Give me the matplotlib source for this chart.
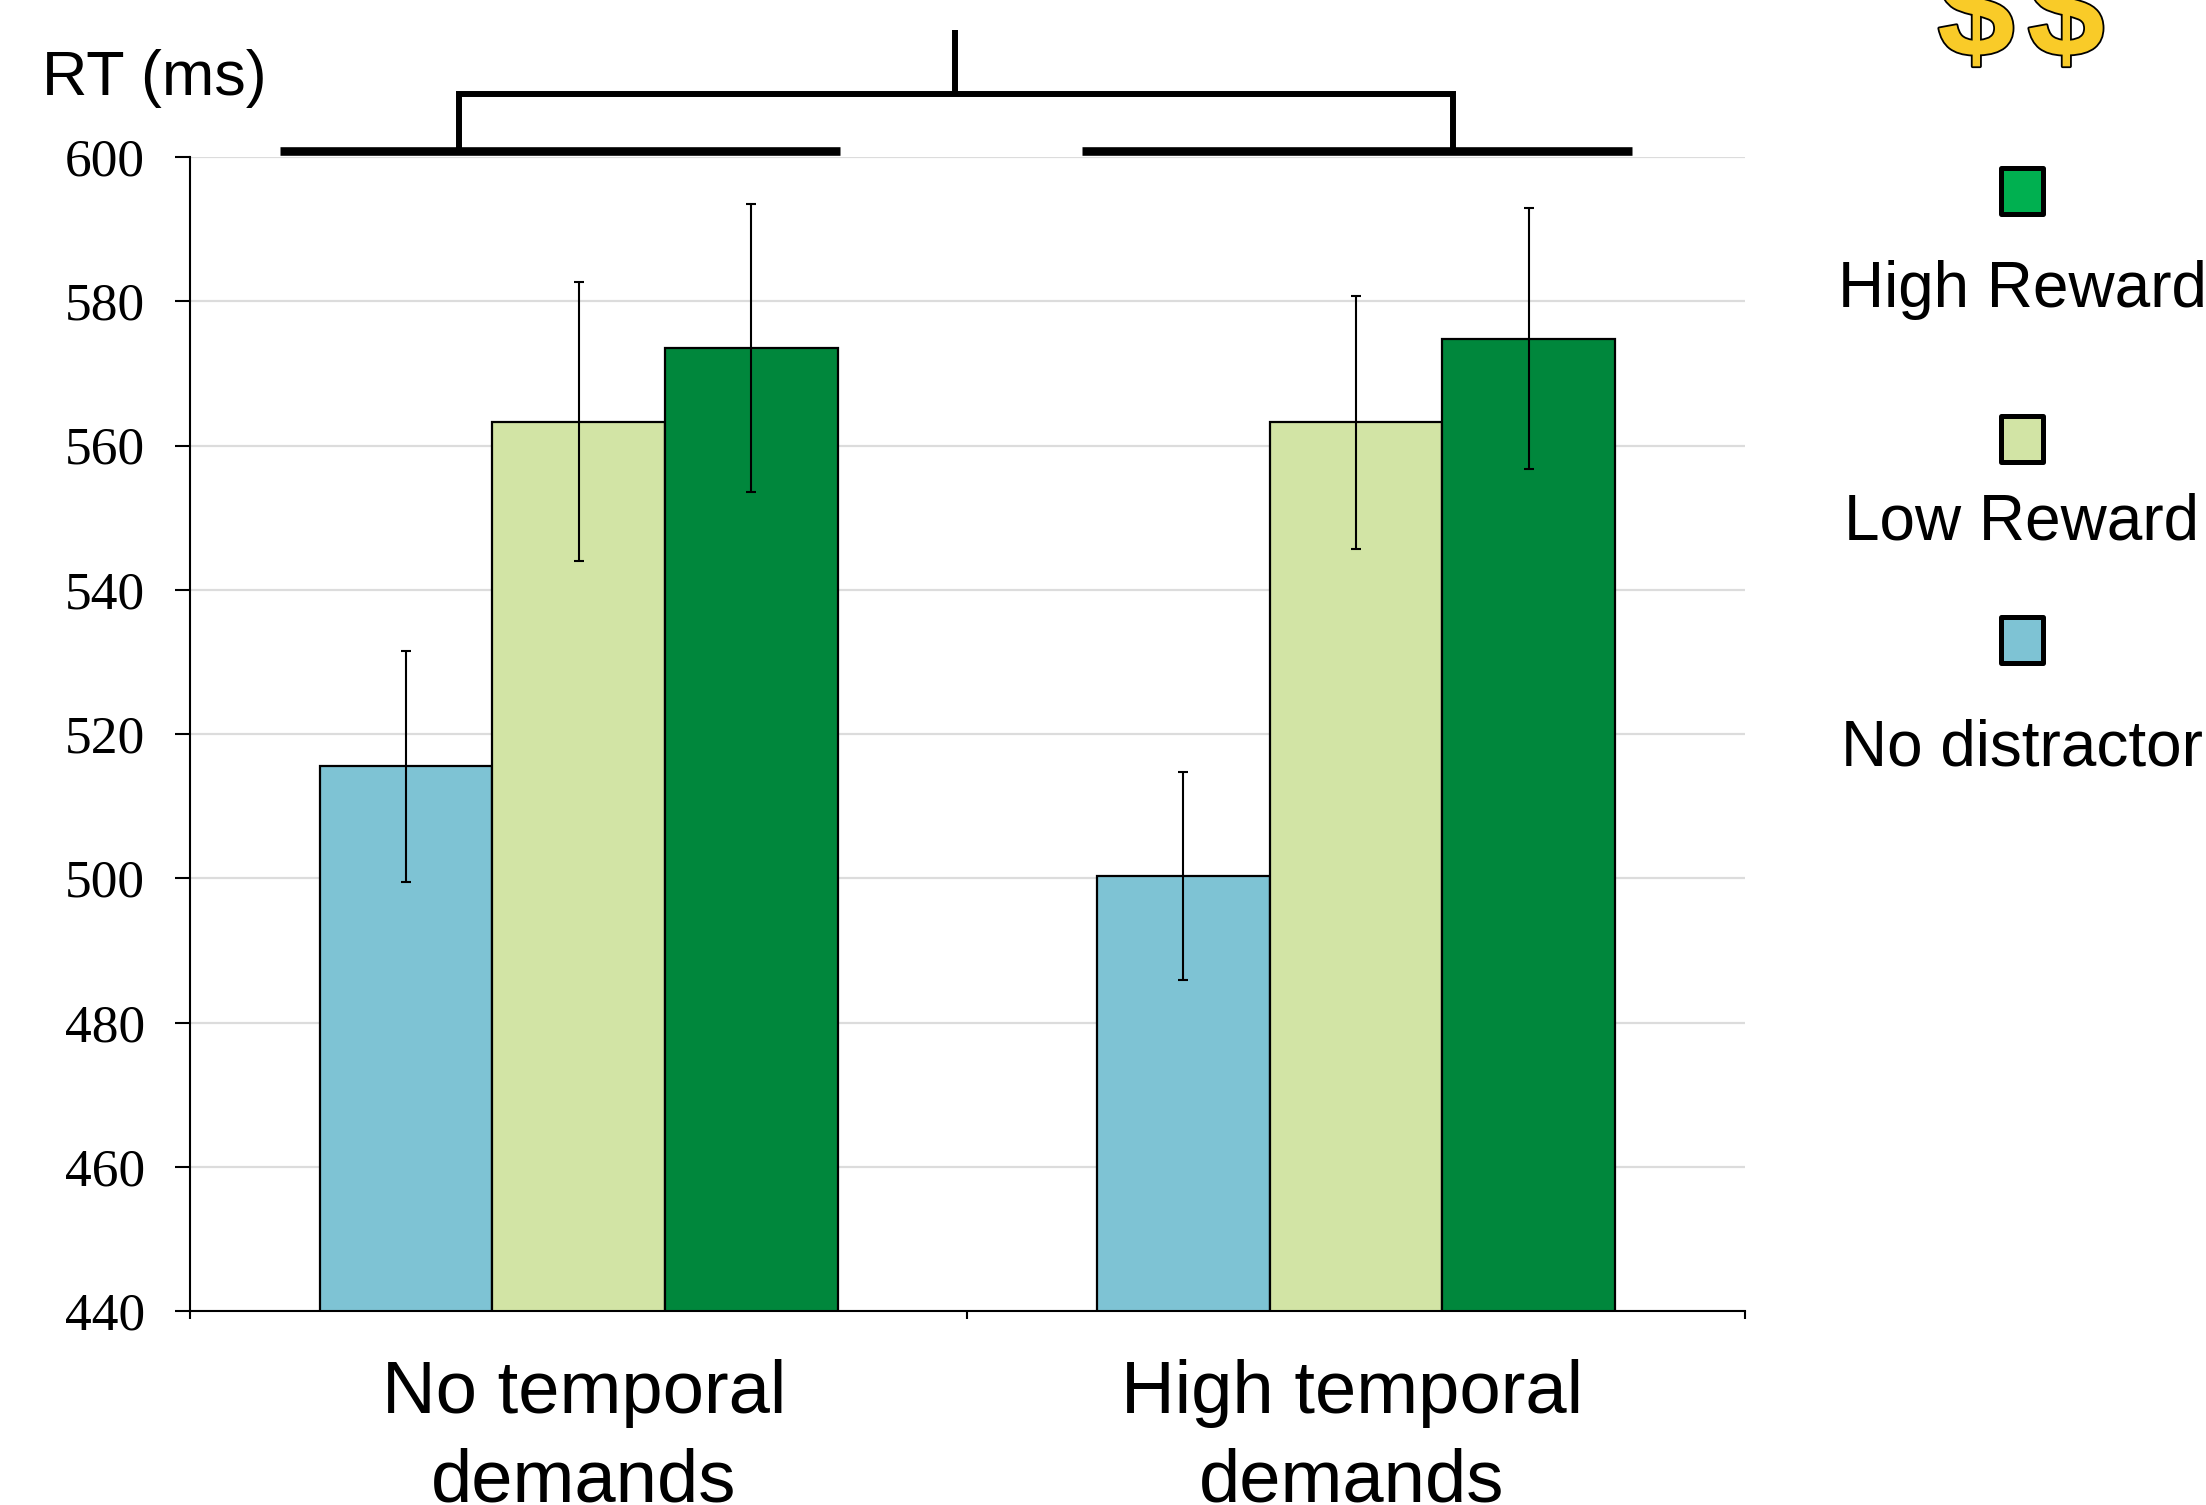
import matplotlib
matplotlib.use("Agg")
import matplotlib.pyplot as plt
import matplotlib.patches as mpatches
import matplotlib.patheffects as pe
import numpy as np

W, H = 2206, 1505

groups = ["No temporal\ndemands", "High temporal\ndemands"]
conditions = ["No distractor", "Low Reward", "High Reward"]
no_distractor = [515.5, 500.3]
low_reward = [563.3, 563.2]
high_reward = [573.5, 574.8]
err_no_distractor = [16.0, 14.4]
err_low_reward = [19.3, 17.5]
err_high_reward = [20.0, 18.1]
yticks = [440, 460, 480, 500, 520, 540, 560, 580, 600]

bar_colors = ["#7EC3D4", "#D2E4A5", "#00873C"]
legend_colors = ["#7EC3D4", "#D2E4A5", "#00B050"]

plt.rcParams["font.family"] = ["Liberation Sans", "DejaVu Sans"]


def fx(px):
    return px / W


def fy(px):
    return 1 - px / H


def fig_line(fig, xs, ys, lw):
    fig.add_artist(plt.Line2D([fx(x) for x in xs], [fy(y) for y in ys], color="black",
                              lw=lw, solid_capstyle="butt", solid_joinstyle="miter"))


fig = plt.figure(figsize=(W / 100, H / 100), dpi=100)
ax = fig.add_axes((fx(190), fy(1311), fx(1744.5 - 190), (1311 - 157) / H))

width = 0.2222
x = np.arange(len(groups))
series = [no_distractor, low_reward, high_reward]
errs = [err_no_distractor, err_low_reward, err_high_reward]
for i in range(3):
    ax.bar(x + (i - 1) * width, series[i], width, color=bar_colors[i], edgecolor="black",
           linewidth=1.6, zorder=2)
    ax.errorbar(x + (i - 1) * width, series[i], yerr=errs[i], fmt="none", ecolor="black",
                elinewidth=1.5, capsize=3.6, capthick=1.5, zorder=3)

ax.set_xlim(-0.5, 1.5)
ax.set_ylim(440, 600)
ax.set_yticks(yticks)
ax.set_xticks([-0.5, 0.5, 1.5])
ax.set_xticklabels([])
ax.yaxis.grid(True, color="#DCDCDC", lw=1.6, zorder=0)
ax.set_axisbelow(True)
for side in ["top", "right"]:
    ax.spines[side].set_visible(False)
for side in ["left", "bottom"]:
    ax.spines[side].set_linewidth(1.5)
ax.tick_params(axis="y", length=10.5, width=1.5, pad=22)
ax.tick_params(axis="x", length=5.5, width=1.5)
for lab in ax.get_yticklabels():
    lab.set_fontfamily("Liberation Serif")
    lab.set_fontsize(38.5)
    lab.set_verticalalignment("center_baseline")

# group labels under the axis
fig.text(fx(584), fy(1393), "No temporal", fontsize=53.5, ha="center", va="center")
fig.text(fx(584), fy(1482), "demands", fontsize=53.5, ha="center", va="center")
fig.text(fx(1352), fy(1393), "High temporal", fontsize=53.5, ha="center", va="center")
fig.text(fx(1352), fy(1482), "demands", fontsize=53.5, ha="center", va="center")

fig.text(fx(42), fy(78), "RT (ms)", fontsize=45.3, ha="left", va="center")

# bracket over the two groups
fig_line(fig, [280, 840], [151, 151], 6.2)
fig_line(fig, [1082, 1632], [151, 151], 6.2)
fig_line(fig, [458.5, 458.5, 1453, 1453], [155, 94, 94, 155], 4.3)
fig_line(fig, [955, 955], [30, 94], 4.3)

# legend on the right
legend_y = [640, 439, 191]
text_y = [748, 522, 290]
for i in range(3):
    fig.add_artist(mpatches.Rectangle((fx(2001), fy(legend_y[i] + 23)), 42 / W, 46 / H,
                                      facecolor=legend_colors[i], edgecolor="black", lw=3.6,
                                      joinstyle="round", transform=fig.transFigure))
    fig.text(fx(2022), fy(text_y[i]), conditions[i], fontsize=46, ha="center", va="center")

for cx in [1976, 2066]:
    t = fig.text(fx(cx), fy(56), "$", fontsize=100, fontweight="bold", color="#F9CB28",
                 ha="center", va="baseline", parse_math=False)
    t.set_path_effects([pe.withStroke(linewidth=2.6, foreground="black")])

fig.savefig("out.png", dpi=100)
